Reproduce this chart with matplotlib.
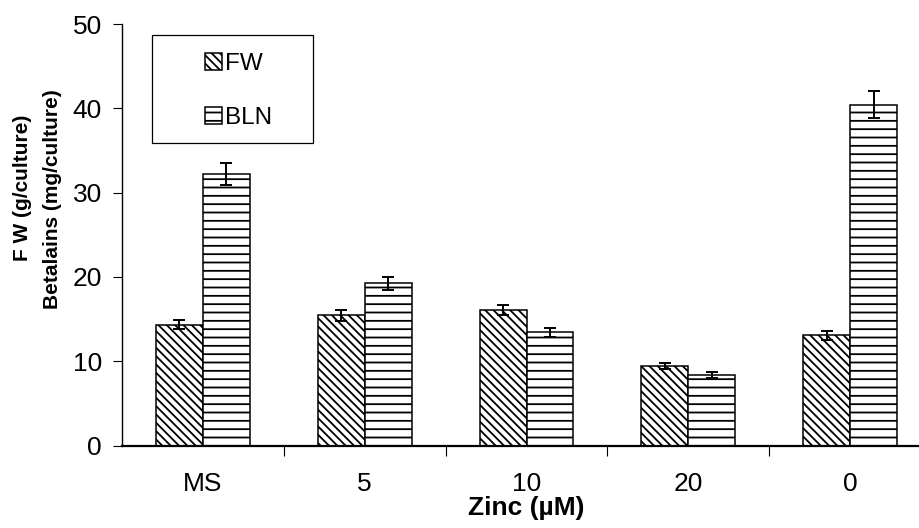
import numpy as np
import matplotlib.pyplot as plt
from matplotlib.patches import Rectangle

plt.rcParams['font.family'] = ['Liberation Sans', 'DejaVu Sans']
plt.rcParams['hatch.linewidth'] = 1.3

#%%
# fresh weight (g/culture) and betalains (mg/culture) for each zinc level

zinc = ['MS', '5', '10', '20', '0']
fw = [14.33, 15.44, 16.07, 9.47, 13.07]
fw_err = [0.56, 0.63, 0.63, 0.36, 0.55]
bln = [32.24, 19.24, 13.43, 8.36, 40.43]
bln_err = [1.3, 0.78, 0.54, 0.32, 1.6]

#%%

fig = plt.figure(figsize=(9.2, 5.28), dpi=100)
ax = fig.add_axes([0.1326, 0.1562, 0.8794, 0.7983])

x = np.arange(len(zinc))
w = 0.29

ax.bar(x - w/2, fw, w, color='white', edgecolor='black', linewidth=1.1,
       hatch='\\\\\\\\', label='FW')
ax.bar(x + w/2, bln, w, color='white', edgecolor='black', linewidth=1.1,
       hatch='--', label='BLN')
ax.errorbar(x - w/2, fw, yerr=fw_err, fmt='none', ecolor='black',
            elinewidth=1.4, capsize=4.5, capthick=1.4)
ax.errorbar(x + w/2, bln, yerr=bln_err, fmt='none', ecolor='black',
            elinewidth=1.4, capsize=4.5, capthick=1.4)

ax.set_xlim(-0.5, len(zinc) - 0.5)
ax.set_ylim(0, 50)
ax.set_yticks(np.arange(0, 51, 10))

# labels sit under the groups, tick marks between them
ax.set_xticks(x)
ax.set_xticklabels(zinc)
ax.set_xticks(np.arange(0.5, len(zinc) - 0.5, 1), minor=True)
ax.tick_params(axis='x', which='major', length=0, pad=19, labelsize=19)
ax.tick_params(axis='x', which='minor', length=7, width=0.8, direction='out')
ax.tick_params(axis='y', length=6.5, width=0.8, labelsize=19, pad=8)

for s in ['top', 'right']:
    ax.spines[s].set_visible(False)
ax.spines['left'].set_linewidth(1.0)
ax.spines['bottom'].set_linewidth(1.6)

ax.set_xlabel('Zinc (µM)', fontsize=19, fontweight='bold', labelpad=0)

fig.text(0.025, 0.644, 'F W (g/culture)', rotation=90, ha='center', va='center',
         fontsize=15, fontweight='bold')
fig.text(0.0576, 0.623, 'Betalains (mg/culture)', rotation=90, ha='center', va='center',
         fontsize=15, fontweight='bold')

leg = ax.legend(loc='center left', bbox_to_anchor=(0.0878, 0.841), frameon=False,
                fontsize=17.5, handlelength=0.7, handleheight=0.7, borderpad=0,
                handletextpad=0.1, labelspacing=1.3)
ax.add_patch(Rectangle((0.037, 0.7177), 0.199, 0.256, transform=ax.transAxes,
                       fill=False, edgecolor='black', linewidth=0.9, clip_on=False))

fig.savefig('out.png', dpi=100)
